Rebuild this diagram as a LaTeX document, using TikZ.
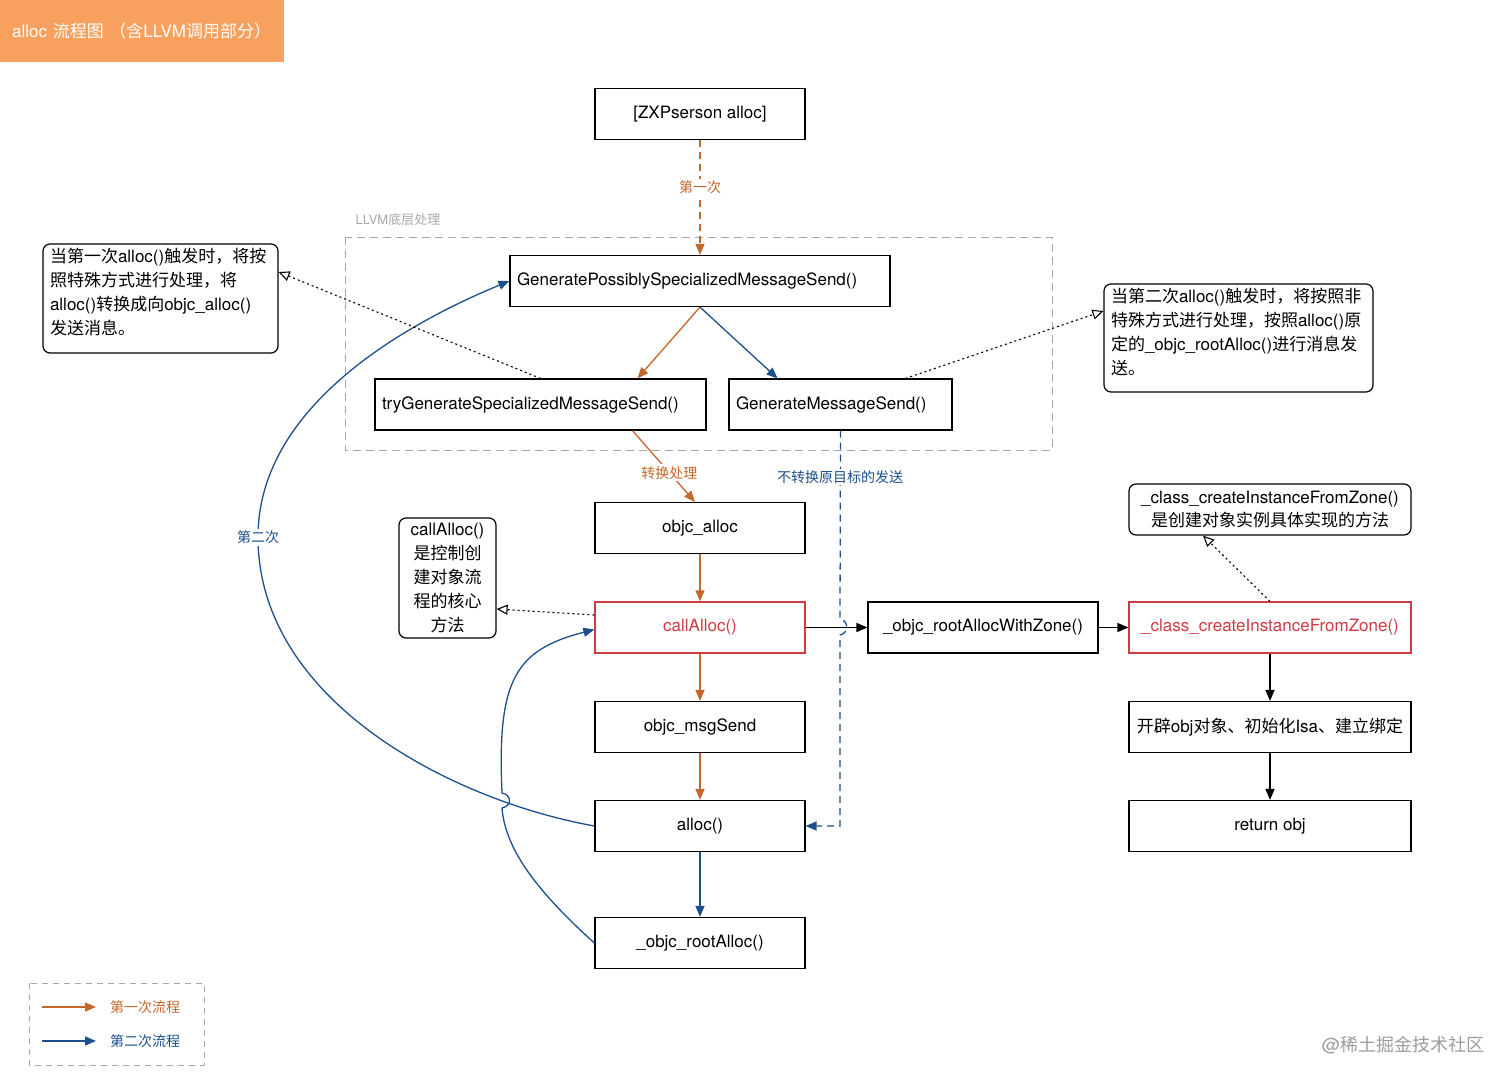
\documentclass[tikz,border=0pt]{standalone}
\usepackage{fontspec}
\usepackage{xcolor}
\usepackage{tikz}
\usetikzlibrary{arrows.meta}

\setmainfont{TeX Gyre Heros}
\newfontfamily\latinfont{TeX Gyre Heros}
\newfontfamily\cjkfont{Noto Sans CJK SC}

% switch to the CJK family for Chinese characters
\XeTeXinterchartokenstate=1
\newXeTeXintercharclass\cjkclass
\newcount\cjkcode
\cjkcode="3000
\loop\XeTeXcharclass\cjkcode=\cjkclass\advance\cjkcode by 1 \ifnum\cjkcode<"A000 \repeat
\cjkcode="FF00
\loop\XeTeXcharclass\cjkcode=\cjkclass\advance\cjkcode by 1 \ifnum\cjkcode<"FFF0 \repeat
\XeTeXinterchartoks 0 \cjkclass = {\cjkfont}
\XeTeXinterchartoks 4095 \cjkclass = {\cjkfont}
\XeTeXinterchartoks \cjkclass 0 = {\latinfont}
\XeTeXinterchartoks \cjkclass 4095 = {\latinfont}

\definecolor{firstflow}{HTML}{C4672B}
\definecolor{secondflow}{HTML}{1C4F8C}
\definecolor{keyred}{HTML}{D03A43}
\definecolor{titlebg}{HTML}{F8A05E}
\definecolor{llvmgray}{HTML}{A8A8A8}
\definecolor{markgray}{HTML}{9C9C9C}

\newcommand{\pxfont}[2]{\fontsize{#1}{#2}\selectfont}

\tikzset{
  fnbox/.style={draw, line width=1.2pt, minimum width=210pt, minimum height=51pt,
    inner sep=0pt, font=\pxfont{17}{24}},
  leftbox/.style={fnbox, align=left, inner xsep=7pt},
  keybox/.style={fnbox, draw=keyred, text=keyred},
  notebox/.style={draw, line width=1.2pt, rounded corners=7pt, inner sep=0pt,
    font=\pxfont{17}{24}},
  lbl/.style={fill=white, inner sep=2pt, font=\pxfont{14}{16}},
  flowA/.style={draw=firstflow, line width=1.3pt, -{Triangle[length=11pt,width=9pt]}},
  flowB/.style={draw=secondflow, line width=1.3pt, -{Triangle[length=11pt,width=9pt]}},
  plain/.style={draw=black, line width=1.3pt, -{Triangle[length=11pt,width=9pt]}},
  hint/.style={draw=black, line width=1.1pt, dash pattern=on 2pt off 3pt,
    -{Triangle[open,length=11pt,width=10pt]}},
}

\begin{document}
\begin{tikzpicture}[x=1pt, y=-1pt]
    \useasboundingbox (0,0) rectangle (1512,1084);

    % title
    \node[fill=titlebg, text=white, minimum height=62pt, text width=260pt, inner xsep=12pt,
      align=left, anchor=north west, font=\pxfont{17}{20}] (title) at (0,0)
      {alloc 流程图 （含LLVM调用部分）};

    % LLVM part
    \draw[llvmgray, line width=1pt, dash pattern=on 8pt off 5pt] (345,237) rectangle (1052,450);
    \node[text=llvmgray, font=\pxfont{13}{16}] (llvm) at (398,220) {LLVM底层处理};

    \node[fnbox] (zxp) at (700,114) {[ZXPserson alloc]};
    \node[leftbox, text width=366pt] (gps) at (700,281) {GeneratePossiblySpecializedMessageSend()};
    \node[leftbox, text width=317pt] (try) at (540.5,404.5) {tryGenerateSpecializedMessageSend()};
    \node[leftbox, text width=209pt] (gms) at (840.5,404.5) {GenerateMessageSend()};

    % notes
    \node[notebox, minimum width=235pt, minimum height=109pt, text width=221pt, align=left,
      inner xsep=7pt] (lnote) at (160.5,298.5)
      {当第一次alloc()触发时，将按\\照特殊方式进行处理，将\\alloc()转换成向objc\_alloc()\\发送消息。\par\kern12pt};
    \node[notebox, minimum width=269pt, minimum height=108pt, text width=255pt, align=left,
      inner xsep=7pt] (rnote) at (1238.5,338)
      {当第二次alloc()触发时，将按照非\\特殊方式进行处理，按照alloc()原\\定的\_objc\_rootAlloc()进行消息发\\送。\par\kern12pt};
    \node[notebox, minimum width=97pt, minimum height=120pt, align=center] (cnote) at (447.5,578)
      {callAlloc()\\是控制创\\建对象流\\程的核心\\方法};
    \node[notebox, minimum width=282pt, minimum height=51pt, align=center,
      font=\pxfont{17}{23}] (czn) at (1270,509.5)
      {\_class\_createInstanceFromZone()\\是创建对象实例具体实现的方法};

    % main chain
    \node[fnbox] (oalloc) at (700,528) {objc\_alloc};
    \node[keybox] (call) at (700,627.5) {callAlloc()};
    \node[fnbox] (msg) at (700,727) {objc\_msgSend};
    \node[fnbox] (alloc) at (700,826) {alloc()};
    \node[fnbox] (root) at (700,943) {\_objc\_rootAlloc()};

    \node[fnbox, minimum width=230pt] (rzone) at (983,627.5) {\_objc\_rootAllocWithZone()};
    \node[keybox, minimum width=282pt] (cczone) at (1270,627.5) {\_class\_createInstanceFromZone()};
    \node[fnbox, minimum width=282pt] (open) at (1270,727) {开辟obj对象、初始化Isa、建立绑定};
    \node[fnbox, minimum width=282pt] (ret) at (1270,826) {return obj};

    % first pass
    \draw[flowA, dash pattern=on 7pt off 5pt] (zxp) -- node[lbl, pos=0.41, text=firstflow] {第一次} (gps);
    \draw[flowA] (gps.south) -- ([xshift=97pt]try.north);
    \draw[flowA] ([xshift=92pt]try.south) -- node[lbl, pos=0.59, text=firstflow] {转换处理} ([xshift=-5pt]oalloc.north);
    \draw[flowA] (oalloc) -- (call);
    \draw[flowA] (call) -- (msg);
    \draw[flowA] (msg) -- (alloc);

    % second pass
    \draw[flowB] (gps.south) -- ([xshift=-63pt]gms.north);
    \coordinate (hopa) at (840,619);
    \coordinate (hopb) at (840,635);
    \coordinate (turn) at (840,826);
    \draw[flowB, dash pattern=on 7pt off 5pt] (gms.south) -- (hopa)
      .. controls +(9,2) and +(9,-2) .. (hopb) -- (turn) -- (alloc.east);
    \node[lbl, text=secondflow] (keep) at (840,477) {不转换原目标的发送};
    \draw[flowB] (alloc) -- (root);
    \draw[flowB] (alloc.west) .. controls (450,800) and (258,700) .. (258,537)
      node[lbl, text=secondflow] (again) {第二次}
      .. controls (258,400) and (420,318) .. (gps.west);
    \draw[flowB] (root.west) .. controls (530,885) and (505,845) .. (502,808)
      .. controls +(10,-2) and +(10,2) .. (502,793)
      .. controls (497,680) and (515,650) .. ([yshift=-2pt]call.west);

    % zone
    \draw[plain] (call) -- (rzone);
    \draw[plain] (rzone) -- (cczone);
    \draw[plain] (cczone) -- (open);
    \draw[plain] (open) -- (ret);

    % hints
    \draw[hint] (try.north) -- ([yshift=26.5pt]lnote.east);
    \draw[hint] ([xshift=65pt]gms.north) -- ([yshift=27pt]rnote.west);
    \draw[hint] ([yshift=12.5pt]call.west) -- ([yshift=-31pt]cnote.east);
    \draw[hint] (cczone.north) -- ([xshift=-67pt]czn.south);

    % legend
    \draw[llvmgray, line width=1pt, dash pattern=on 6pt off 5pt] (29,983) rectangle (204,1065);
    \coordinate (la) at (42,1007);
    \coordinate (lb) at (96,1007);
    \coordinate (lc) at (42,1041);
    \coordinate (ld) at (96,1041);
    \draw[flowA] (la) -- (lb);
    \draw[flowB] (lc) -- (ld);
    \node[text=firstflow, font=\pxfont{14}{16}] (firstkey) at (145,1007) {第一次流程};
    \node[text=secondflow, font=\pxfont{14}{16}] (secondkey) at (145,1041) {第二次流程};

    \node[text=markgray, font=\pxfont{18}{20}] (mark) at (1403,1045) {@稀土掘金技术社区};
\end{tikzpicture}
\end{document}
